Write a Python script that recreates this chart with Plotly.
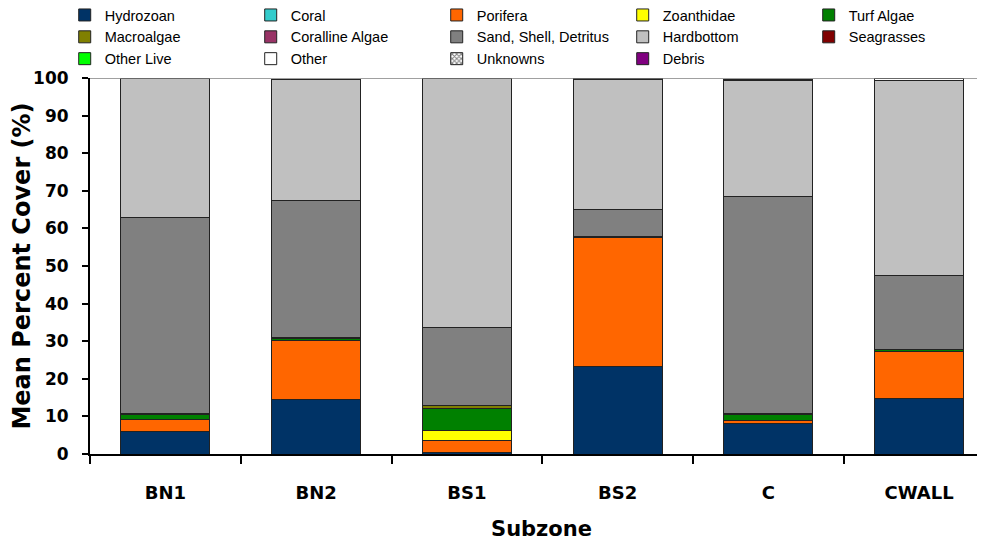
import plotly.graph_objects as go

subzones = ["BN1", "BN2", "BS1", "BS2", "C", "CWALL"]

hydrozoan = [6.1, 14.5, 0.3, 23.2, 8.0, 14.8]
coral = [0, 0, 0, 0, 0, 0]
porifera = [3.1, 15.7, 3.3, 34.3, 0.8, 12.5]
zoanthidae = [0, 0, 2.7, 0, 0, 0]
turf_algae = [1.3, 0.5, 5.7, 0.3, 1.6, 0.5]
macroalgae = [0.3, 0.4, 0.9, 0, 0.3, 0]
coralline_algae = [0, 0, 0, 0, 0, 0]
sand = [52.2, 36.3, 20.7, 7.2, 57.7, 19.7]
hardbottom = [37.0, 32.3, 66.4, 34.5, 31.0, 51.8]
seagrasses = [0, 0, 0, 0.3, 0.3, 0]
other_live = [0, 0, 0, 0, 0, 0]
other = [0, 0, 0, 0, 0, 0.6]
unknowns = [0, 0, 0, 0, 0, 0]
debris = [0, 0, 0, 0, 0, 0]

SERIES = [
    ("Hydrozoan", hydrozoan, "#003366"),
    ("Coral", coral, "#33CCCC"),
    ("Porifera", porifera, "#FF6600"),
    ("Zoanthidae", zoanthidae, "#FFFF00"),
    ("Turf Algae", turf_algae, "#008000"),
    ("Macroalgae", macroalgae, "#808000"),
    ("Coralline Algae", coralline_algae, "#993366"),
    ("Sand, Shell, Detritus", sand, "#808080"),
    ("Hardbottom", hardbottom, "#C0C0C0"),
    ("Seagrasses", seagrasses, "#800000"),
    ("Other Live", other_live, "#00FF00"),
    ("Other", other, "#FFFFFF"),
    ("Unknowns", unknowns, "#FFFFFF"),
    ("Debris", debris, "#800080"),
]

FONT = "DejaVu Sans, sans-serif"
LEGEND_FONT = "Liberation Sans, Arial, sans-serif"

fig = go.Figure()
for name, vals, color in SERIES:
    marker = dict(color=color, line=dict(color="#222222", width=1))
    if name == "Unknowns":
        marker["pattern"] = dict(shape="x", size=4, fgcolor="#000000",
                                 bgcolor="#FFFFFF", solidity=0.5)
    fig.add_trace(go.Bar(
        x=subzones,
        y=[v if v else None for v in vals],
        name=name,
        marker=marker,
        width=0.59,
    ))

# page body adds an 8px offset, margins account for it
fig.update_layout(
    barmode="stack",
    width=985,
    height=546,
    margin=dict(l=82, r=0, t=70, b=100, autoexpand=False),
    plot_bgcolor="white",
    paper_bgcolor="white",
    font=dict(family=FONT, size=13, color="black"),
    legend=dict(
        orientation="h",
        x=-0.028, xanchor="left",
        y=1.21, yanchor="top",
        entrywidth=141, entrywidthmode="pixels",
        traceorder="normal",
        font=dict(size=14.5, family=LEGEND_FONT),
        itemwidth=30,
        tracegroupgap=0,
        bgcolor="rgba(0,0,0,0)",
    ),
    showlegend=True,
)

fig.update_xaxes(
    range=[-0.5, 5.49],
    automargin=False,
    showline=True, linecolor="black", linewidth=2,
    ticks="outside", tickson="boundaries", ticklen=8, tickwidth=2,
    tickcolor="black",
    tickfont=dict(size=18, family=FONT, weight="bold"),
    ticklabelstandoff=21,
    title=dict(text="Subzone", font=dict(size=21, weight="bold"), standoff=20),
    showgrid=False,
)
fig.update_yaxes(
    range=[0, 100],
    dtick=10,
    automargin=False,
    showline=True, linecolor="black", linewidth=2,
    ticks="outside", ticklen=6, tickwidth=2, tickcolor="black",
    tickfont=dict(size=17, family=FONT, weight="bold"),
    ticklabelstandoff=10,
    title=dict(text="Mean Percent Cover (%)", font=dict(size=24, weight="bold"), standoff=2),
    showgrid=False,
    zeroline=False,
)

fig.add_shape(type="line", xref="paper", yref="y", x0=0, x1=1, y0=100, y1=100,
              line=dict(color="#808080", width=1.5))

fig.write_html("out.html")
